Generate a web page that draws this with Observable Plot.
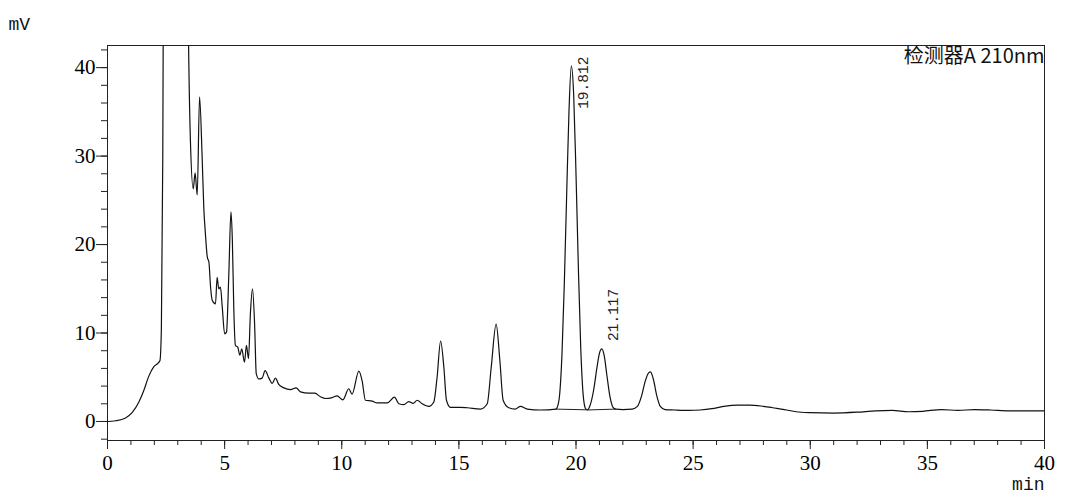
<!DOCTYPE html>
<html>
<head>
<meta charset="utf-8">
<script src="https://cdn.jsdelivr.net/npm/d3@7"></script>
<script src="https://cdn.jsdelivr.net/npm/@observablehq/plot@0.6"></script>
<style>
  html, body { margin: 0; padding: 0; background: #fff; }
  #chart { width: 1080px; height: 499px; }
  #chart svg g[aria-label="x-axis tick label"] text,
  #chart svg g[aria-label="y-axis tick label"] text { font-family: 'Liberation Serif', 'DejaVu Serif', serif !important; }
</style>
</head>
<body>
<div id="chart"></div>
<script>
// Retention time (min)
const times = [
  0, 0.34, 0.77, 1.05, 1.34, 1.55, 1.76, 1.98, 2.16, 2.24, 2.30, 2.36, 2.40, 2.45,
  3.30, 3.45, 3.54, 3.66, 3.74, 3.83, 3.93, 4.04, 4.11, 4.18, 4.26, 4.33, 4.40, 4.47,
  4.61, 4.68, 4.75, 4.82, 4.90, 5.00, 5.08, 5.18, 5.27, 5.33, 5.39, 5.46, 5.56, 5.65,
  5.73, 5.85, 5.93, 6.02, 6.10, 6.19, 6.28, 6.35, 6.46, 6.60, 6.73, 6.89, 7.03, 7.17,
  7.31, 7.53, 7.81, 8.05, 8.24, 8.59, 8.85, 9.09, 9.31, 9.59, 9.80, 10.05, 10.30, 10.44,
  10.73, 10.87, 11.01, 11.30, 11.51, 11.94, 12.25, 12.44, 12.65, 12.86, 13.05, 13.22,
  13.43, 13.72, 13.93, 14.07, 14.22, 14.36, 14.47, 14.64, 15.07, 15.36, 15.92, 16.21,
  16.38, 16.59, 16.75, 16.89, 17.13, 17.40, 17.63, 17.92, 18.48, 19.15, 19.20, 19.30,
  19.40, 19.50, 19.60, 19.70, 19.80, 19.90, 20.00, 20.10, 20.20, 20.30, 20.40, 20.48,
  20.60, 20.75, 20.90, 21.00, 21.10, 21.20, 21.32, 21.45, 21.58, 21.70, 22.00, 22.40,
  22.62, 22.80, 22.95, 23.10, 23.18, 23.30, 23.45, 23.60, 23.80, 24.20, 24.80, 25.30,
  25.80, 26.30, 26.90, 27.40, 27.90, 28.40, 28.90, 29.40, 30.00, 31.00, 32.00, 32.80,
  33.50, 34.20, 34.80, 35.60, 36.30, 37.00, 37.70, 38.50, 39.30, 40.00
];
// Detector signal (mV)
const signal = [
  0, 0.08, 0.4, 1.0, 2.2, 3.5, 5.1, 6.2, 6.6, 6.9, 10.5, 30, 60, 120,
  100, 45, 31.7, 26.3, 28.1, 25.6, 36.7, 29.9, 24.2, 21.2, 18.6, 18.0, 15.2, 13.7,
  13.3, 16.3, 15.0, 15.2, 12.9, 9.9, 10.1, 16.7, 23.7, 20.5, 12.9, 8.6, 8.4, 7.5,
  8.2, 6.7, 8.6, 7.1, 12.2, 15.0, 11.0, 5.4, 4.8, 4.9, 5.75, 4.9, 4.3, 4.9,
  4.2, 3.8, 3.6, 3.8, 3.35, 3.2, 3.2, 2.8, 2.6, 2.7, 2.9, 2.45, 3.7, 3.1,
  5.7, 4.6, 2.4, 2.3, 2.1, 2.1, 2.75, 2.0, 1.9, 2.25, 2.05, 2.4,
  2.0, 1.7, 2.2, 5.0, 9.1, 6.1, 2.4, 1.6, 1.6, 1.55, 1.4, 2.0,
  6.1, 11.0, 6.9, 2.4, 1.55, 1.4, 1.7, 1.4, 1.3, 1.4, 1.6, 3.0,
  7.5, 15.5, 25.5, 35, 40.2, 37, 28, 17.5, 8.5, 3.2, 1.5, 1.3,
  1.8, 3.5, 6.2, 7.7, 8.2, 7.5, 5.2, 2.8, 1.6, 1.4, 1.35, 1.4,
  1.7, 2.9, 4.5, 5.5, 5.6, 4.8, 2.9, 1.7, 1.35, 1.3, 1.25, 1.3,
  1.45, 1.7, 1.85, 1.85, 1.75, 1.55, 1.35, 1.1, 1.0, 0.95, 1.05, 1.2,
  1.25, 1.1, 1.15, 1.35, 1.25, 1.35, 1.3, 1.2, 1.2, 1.2
];
// Integrated peaks
const peakLabels = ["19.812", "21.117"];
const peakTimes = [19.80, 21.10];
const peakHeights = [40.2, 8.2];
// Integration baselines [start time, start mV, end time, end mV]
const baseStartT = [19.12, 20.48];
const baseStartV = [1.4, 1.3];
const baseEndT = [20.45, 21.70];
const baseEndV = [1.32, 1.4];
// Axis ticks
const xMajor = [0, 5, 10, 15, 20, 25, 30, 35, 40];
const xMinor = d3.range(0, 41, 1);
const yMajor = [0, 10, 20, 30, 40];
const yMinor = d3.range(-2, 43, 2);

const curve = times.map((t, i) => ({t, v: signal[i]}));
const peaks = peakLabels.map((label, i) => ({label, t: peakTimes[i], v: peakHeights[i]}));
const bases = baseStartT.map((t, i) => ({x1: t, y1: baseStartV[i], x2: baseEndT[i], y2: baseEndV[i]}));

const serif = "Liberation Serif";
const mono = "Liberation Mono";

const chart = Plot.plot({
  width: 1080,
  height: 499,
  marginLeft: 107,
  marginRight: 36,
  marginTop: 45,
  marginBottom: 59,
  style: "font-family: 'Liberation Serif', serif; font-size: 20px; color: #000; background: #fff;",
  x: {domain: [0, 40]},
  y: {domain: [-2.15, 42.5]},
  marks: [
    Plot.frame({stroke: "#222", strokeWidth: 1}),
    Plot.axisX({ticks: xMinor, tickSize: 5, text: null, label: null, stroke: "#222"}),
    Plot.axisX({ticks: xMajor, tickSize: 9, tickPadding: 6, tickFormat: d => String(d), label: null, stroke: "#222", fontSize: 21, fontFamily: serif}),
    Plot.axisY({ticks: yMinor, tickSize: 6, text: null, label: null, stroke: "#222"}),
    Plot.axisY({ticks: yMajor, tickSize: 11, tickPadding: 1, tickFormat: d => String(d), label: null, stroke: "#222", fontSize: 21, fontFamily: serif}),
    Plot.link(bases, {x1: "x1", y1: "y1", x2: "x2", y2: "y2", stroke: "#222", strokeWidth: 1}),
    Plot.line(curve, {x: "t", y: "v", stroke: "#111", strokeWidth: 1.2, curve: "monotone-x", clip: true}),
    Plot.text(peaks.filter((d, i) => i === 0), {x: "t", y: "v", text: "label", rotate: -90, textAnchor: "start", dx: 12, dy: 43, fontFamily: mono, fontSize: 14.5, fill: "#222"}),
    Plot.text(peaks.filter((d, i) => i === 1), {x: "t", y: "v", text: "label", rotate: -90, textAnchor: "start", dx: 12, dy: -8, fontFamily: mono, fontSize: 14.5, fill: "#222"}),
    Plot.text(["检测器A 210nm"], {frameAnchor: "top-right", textAnchor: "end", lineAnchor: "top", dy: 3, fontFamily: "Noto Sans CJK SC", fontSize: 20, fill: "#111"}),
    Plot.text(["mV"], {frameAnchor: "top-left", textAnchor: "start", dx: -99, dy: -28, fontFamily: mono, fontSize: 18, fill: "#111"}),
    Plot.text(["min"], {frameAnchor: "bottom-right", textAnchor: "end", dy: 49, fontFamily: mono, fontSize: 18, fill: "#111"})
  ]
});
d3.select(chart).selectAll('g[aria-label$="tick label"] text').style("font-family", "'Liberation Serif', serif");
document.getElementById("chart").appendChild(chart);
</script>
</body>
</html>
